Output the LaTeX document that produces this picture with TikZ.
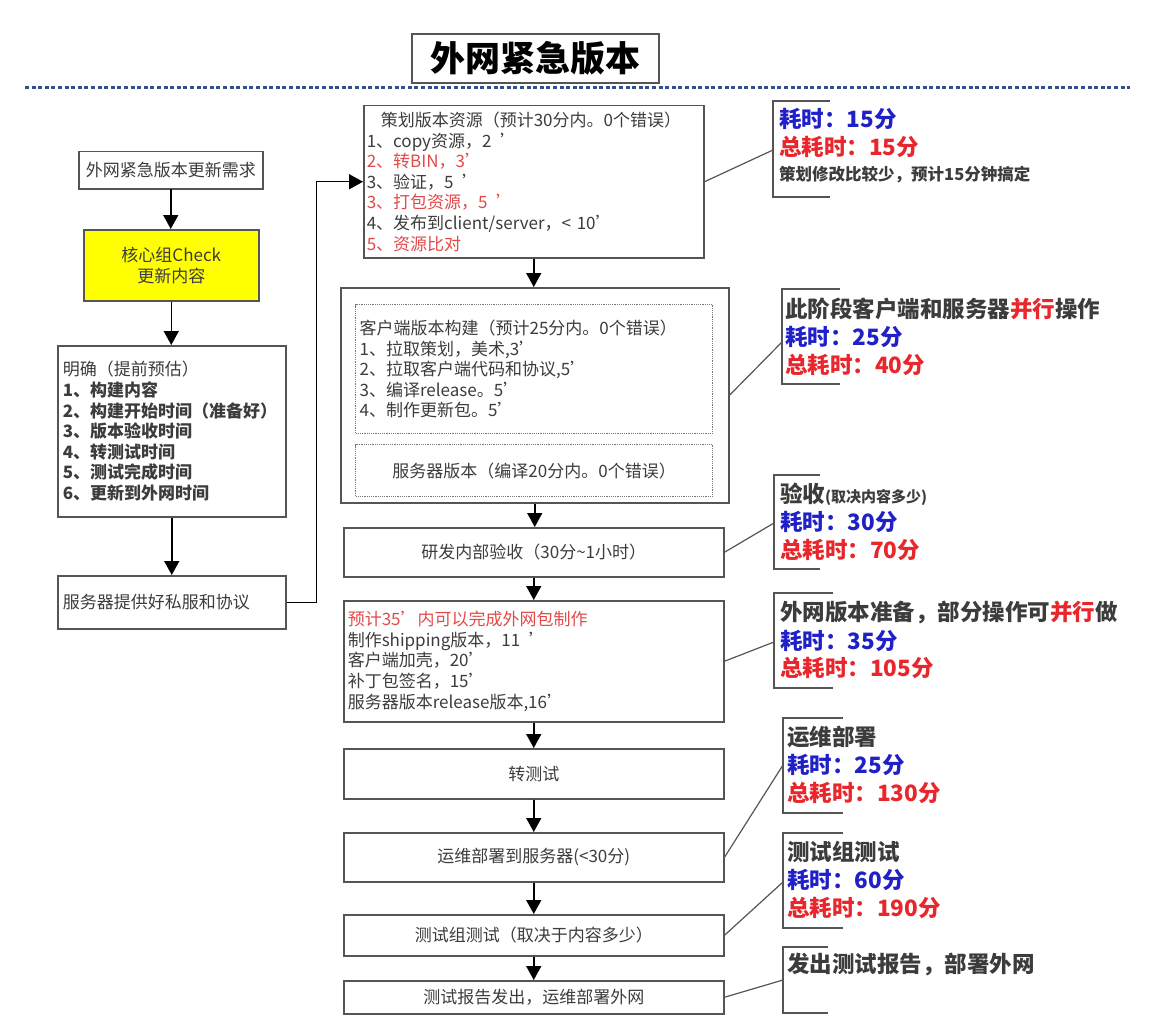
\documentclass[tikz,border=0pt]{standalone}
\usepackage{fontspec}
\setmainfont{Noto Sans CJK SC}
\usetikzlibrary{arrows.meta}
\definecolor{txt}{HTML}{3C3C3C}
\definecolor{bord}{HTML}{555555}
\definecolor{cred}{HTML}{E8262B}
\definecolor{lred}{HTML}{E24A4A}
\definecolor{cblue}{HTML}{2020C8}
\definecolor{dotblue}{HTML}{34508A}
\definecolor{yel}{HTML}{FFFF00}
\begin{document}
\begin{tikzpicture}[x=1pt,y=-1pt,
 box/.style={draw=bord, line width=1.5pt, fill=white, text=txt, inner sep=0pt, anchor=north west, font=\fontsize{17}{20.6}\selectfont},
 lbox/.style={box, align=left, inner xsep=5pt},
 dbox/.style={box, draw=bord!80, line width=1.2pt, densely dotted},
 arr/.style={-{Triangle[width=15pt,length=14pt]}, line width=1.5pt, black},
 link/.style={draw=bord, line width=1.2pt},
 brk/.style={draw=bord, line width=1.8pt},
 ct/.style={anchor=west, inner sep=0pt, text=txt, font=\bfseries\fontsize{22.5}{22.5}\selectfont},
 cb/.style={ct, text=cblue},
 cr/.style={ct, text=cred}]
\useasboundingbox (0,0) rectangle (1149,1030);
% title
\node[draw=bord, line width=2pt, anchor=north west, minimum width=247pt, minimum height=49pt, inner sep=0pt, font=\bfseries\fontsize{35}{35}\selectfont] (title) at (411,33) {外网紧急版本};
\draw[dotblue, line width=3pt, dash pattern=on 4pt off 2.6pt] (25,88) coordinate (dl) -- (1130,88) coordinate (dr);
% left column
\node[box, minimum width=184pt, minimum height=37pt] (n1) at (78,151) {外网紧急版本更新需求};
\node[box, fill=yel, align=center, minimum width=175pt, minimum height=71pt] (n2) at (83,229) {核心组Check\\更新内容};
\node[lbox, text width=218pt, minimum height=171pt] (n3) at (57,345) {明确（提前预估）\\\bfseries 1、构建内容\\\bfseries 2、构建开始时间（准备好）\\\bfseries 3、版本验收时间\\\bfseries 4、转测试时间\\\bfseries 5、测试完成时间\\\bfseries 6、更新到外网时间};
\node[lbox, text width=218pt, minimum height=53pt] (n4) at (57,575) {服务器提供好私服和协议};
\draw[arr] (n1.south) -- (n1.south |- n2.north);
\draw[arr] (n2.south) -- (n2.south |- n3.north);
\draw[arr] (n3.south) -- (n3.south |- n4.north);
% middle column
\node[lbox, inner xsep=3pt, text width=334pt, minimum height=152pt] (A) at (363,105) {\hspace*{14pt}策划版本资源（预计30分内。0个错误）\\1、copy资源，2 \,'\\\textcolor{lred}{2、转BIN，3'}\\3、验证，5 \,'\\\textcolor{lred}{3、打包资源，5 \,'}\\4、发布到client/server，< 10'\\\textcolor{lred}{5、资源比对}};
\node[box, minimum width=388pt, minimum height=215pt] (B) at (340,287) {};
\node[dbox, align=left, inner xsep=4pt, text width=349pt, minimum height=129pt] (B1) at (355,304) {客户端版本构建（预计25分内。0个错误）\\1、拉取策划，美术,3'\\2、拉取客户端代码和协议,5'\\3、编译release。5'\\4、制作更新包。5'};
\node[dbox, minimum width=357pt, minimum height=52pt] (B2) at (355,444) {服务器版本（编译20分内。0个错误）};
\node[box, minimum width=380pt, minimum height=49pt] (C) at (343,527) {研发内部验收（30分\textasciitilde1小时）};
\node[lbox, inner xsep=4pt, text width=372pt, minimum height=121pt] (D) at (343,600) {\textcolor{lred}{预计35'内可以完成外网包制作}\\制作shipping版本，11 \,'\\客户端加壳，20'\\补丁包签名，15'\\服务器版本release版本,16'};
\node[box, minimum width=380pt, minimum height=50pt] (E) at (343,748) {转测试};
\node[box, minimum width=380pt, minimum height=49pt] (F) at (343,832) {运维部署到服务器(<30分)};
\node[box, minimum width=380pt, minimum height=41pt] (G) at (343,914) {测试组测试（取决于内容多少）};
\node[box, minimum width=380pt, minimum height=33pt] (H) at (343,980) {测试报告发出，运维部署外网};
\draw[arr] (A.south) -- (A.south |- B.north);
\draw[arr] (B.south) -- (B.south |- C.north);
\draw[arr] (C.south) -- (C.south |- D.north);
\draw[arr] (D.south) -- (D.south |- E.north);
\draw[arr] (E.south) -- (E.south |- F.north);
\draw[arr] (F.south) -- (F.south |- G.north);
\draw[arr] (G.south) -- (G.south |- H.north);
\draw[arr] (n4.east) -- ++(30,0) |- (A.west);
% callouts
\draw[brk] (830,101) -- (773,101) -- (773,197) -- (830,197);
\coordinate (r1) at (773,150);
\draw[link] (A.east) -- (r1);
\node[cb] (r1a) at (779,119) {耗时：15分};
\node[cr] (r1b) at (779,147) {总耗时：15分};
\node[ct, font=\bfseries\fontsize{16.5}{16.5}\selectfont] (r1c) at (779,175) {策划修改比较少，预计15分钟搞定};

\draw[brk] (840,289) -- (782,289) -- (782,384) -- (840,384);
\coordinate (r2) at (782,342);
\draw[link] (B.east) -- (r2);
\node[ct] (r2a) at (785,309) {此阶段客户端和服务器\textcolor{cred}{并行}操作};
\node[cb] (r2b) at (785,337) {耗时：25分};
\node[cr] (r2c) at (785,365) {总耗时：40分};

\draw[brk] (820,475) -- (774,475) -- (774,569) -- (820,569);
\coordinate (r3) at (774,523);
\draw[link] (C.east) -- (r3);
\node[ct] (r3a) at (780,494) {验收{\fontsize{15}{15}\selectfont(取决内容多少)}};
\node[cb] (r3b) at (780,522) {耗时：30分};
\node[cr] (r3c) at (780,550) {总耗时：70分};

\draw[brk] (833,593) -- (774,593) -- (774,688) -- (833,688);
\coordinate (r4) at (774,642);
\draw[link] (D.east) -- (r4);
\node[ct] (r4a) at (780,613) {外网版本准备，部分操作可\textcolor{cred}{并行}做};
\node[cb] (r4b) at (780,641) {耗时：35分};
\node[cr] (r4c) at (780,668) {总耗时：105分};

\draw[brk] (843,718) -- (783,718) -- (783,813) -- (843,813);
\coordinate (r5) at (783,765);
\draw[link] (F.east) -- (r5);
\node[ct] (r5a) at (787,737) {运维部署};
\node[cb] (r5b) at (787,765) {耗时：25分};
\node[cr] (r5c) at (787,793) {总耗时：130分};

\draw[brk] (843,833) -- (783,833) -- (783,928) -- (843,928);
\coordinate (r6) at (783,882);
\draw[link] (G.east) -- (r6);
\node[ct] (r6a) at (787,852) {测试组测试};
\node[cb] (r6b) at (787,880) {耗时：60分};
\node[cr] (r6c) at (787,908) {总耗时：190分};

\draw[brk] (828,947) -- (783,947) -- (783,1013) -- (828,1013);
\coordinate (r7) at (783,980);
\draw[link] (H.east) -- (r7);
\node[ct] (r7a) at (787,965) {发出测试报告，部署外网};
\end{tikzpicture}
\end{document}
